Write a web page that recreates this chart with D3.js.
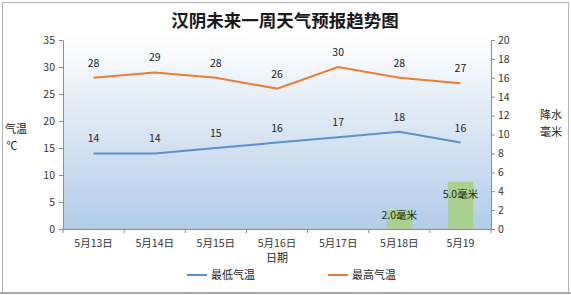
<!DOCTYPE html>
<html><head><meta charset="utf-8">
<script src="https://cdn.jsdelivr.net/npm/d3@7/dist/d3.min.js"></script>
<style>body{margin:0;background:#fff}svg{display:block;font-family:"Noto Sans CJK SC","Noto Sans",sans-serif}</style>
</head><body><svg id="c" width="571" height="295"></svg>
<script>
const categories = ["5月13日","5月14日","5月15日","5月16日","5月17日","5月18日","5月19"];
const lowTemp = [14,14,15,16,17,18,16];
const highTemp = [28,29,28,26,30,28,27];
const rain = [0,0,0,0,0,2.0,5.0];
const leftTicks = [0,5,10,15,20,25,30,35];
const rightTicks = [0,2,4,6,8,10,12,14,16,18,20];

const svg = d3.select("#c");
const L = 63, R = 491, T = 40, B = 229;
const x = d3.scaleBand().domain(categories).range([L, R]);
const yL = d3.scaleLinear().domain([0,35]).range([B, T]);
const yR = d3.scaleLinear().domain([0,20]).range([B, T]);

// chart border
svg.append("rect").attr("x",2.5).attr("y",2.5).attr("width",566).attr("height",290)
  .attr("fill","#fff").attr("stroke","#b4b4b4").attr("stroke-width",1);
svg.append("line").attr("x1",0).attr("x2",571).attr("y1",293).attr("y2",293).attr("stroke","#a8a8a8").attr("stroke-width",2);

// gradient
const defs = svg.append("defs");
const g = defs.append("linearGradient").attr("id","bg").attr("x1",0).attr("x2",0).attr("y1",0).attr("y2",1);
g.append("stop").attr("offset","0%").attr("stop-color","#ffffff");
g.append("stop").attr("offset","100%").attr("stop-color","#b2cce8");
svg.append("rect").attr("x",L+1).attr("y",T-6).attr("width",R-L-1).attr("height",B-T+6).attr("fill","url(#bg)");

// title
svg.append("text").attr("x",285).attr("y",27).attr("text-anchor","middle")
  .attr("font-size",17.5).attr("font-weight","bold").attr("fill","#1a1a1a").text("汉阴未来一周天气预报趋势图");

// bars
const bw = 25;
const rainData = rain.map((v,i)=>({v,c:categories[i]})).filter(d=>d.v>0);
svg.selectAll("rect.bar").data(rainData)
  .enter().append("rect").attr("class","bar")
  .attr("x",d=>x(d.c)+x.bandwidth()/2-bw/2).attr("width",bw)
  .attr("y",d=>yR(d.v)).attr("height",d=>B-yR(d.v)).attr("fill","#a9d08e");
svg.selectAll("text.barl").data(rainData)
  .enter().append("text").attr("class","barl")
  .attr("x",d=>x(d.c)+x.bandwidth()/2).attr("text-anchor","middle")
  .attr("y",d=>yR(d.v)+Math.min(12,(B-yR(d.v))/4)+4)
  .attr("font-size",10.5).attr("fill","#1e2a10").text(d=>d.v.toFixed(1)+"毫米");

// axes
const axL = d3.axisLeft(yL).tickValues(leftTicks).tickSize(4).tickSizeOuter(0);
const gl = svg.append("g").attr("transform",`translate(${L},0)`).call(axL);
const axR = d3.axisRight(yR).tickValues(rightTicks).tickSize(4).tickSizeOuter(0);
const gr = svg.append("g").attr("transform",`translate(${R},0)`).call(axR);
const axB = d3.axisBottom(x).tickSize(0).tickSizeOuter(0);
const gb = svg.append("g").attr("transform",`translate(0,${B})`).call(axB);
gb.selectAll("line.bt").data(d3.range(categories.length+1)).enter().append("line").attr("class","bt")
  .attr("x1",i=>L+i*x.step()).attr("x2",i=>L+i*x.step()).attr("y1",0).attr("y2",4).attr("stroke","#8c8c8c");
[gl,gr,gb].forEach(a=>{
  a.selectAll(".domain").attr("stroke","#8c8c8c");
  a.selectAll(".tick line").attr("stroke","#8c8c8c");
  a.selectAll("text").attr("fill","#333").attr("font-size",10.5).attr("font-family","'Noto Sans CJK SC',sans-serif");
});
gl.selectAll(".tick text").attr("dx",-1);
gb.selectAll(".tick text").attr("dy","1.4em");

// lines
const line = d3.line().x((d,i)=>x(categories[i])+x.bandwidth()/2).y(d=>yL(d));
svg.append("path").datum(lowTemp).attr("d",line).attr("fill","none").attr("stroke","#5b8fcf").attr("stroke-width",2);
svg.append("path").datum(highTemp).attr("d",line).attr("fill","none").attr("stroke","#ed7d31").attr("stroke-width",2);
[lowTemp, highTemp].forEach(arr=>{
  svg.append("g").selectAll("text").data(arr).enter().append("text")
    .attr("x",(d,i)=>x(categories[i])+x.bandwidth()/2).attr("y",d=>yL(d)-11)
    .attr("text-anchor","middle").attr("font-size",10.5).attr("fill","#222").text(d=>d);
});

// axis titles
svg.append("text").attr("x",16).attr("y",133).attr("text-anchor","middle").attr("font-size",11).attr("fill","#222").text("气温");
svg.append("text").attr("x",12).attr("y",150).attr("text-anchor","middle").attr("font-size",11).attr("fill","#222").text("℃");
svg.append("text").attr("x",551).attr("y",119).attr("text-anchor","middle").attr("font-size",11).attr("fill","#222").text("降水");
svg.append("text").attr("x",551).attr("y",136).attr("text-anchor","middle").attr("font-size",11).attr("fill","#222").text("毫米");
svg.append("text").attr("x",277).attr("y",262).attr("text-anchor","middle").attr("font-size",11).attr("fill","#222").text("日期");

// legend
const leg = [{n:"最低气温",c:"#5b8fcf",x:187},{n:"最高气温",c:"#ed7d31",x:328}];
leg.forEach(l=>{
  svg.append("line").attr("x1",l.x).attr("x2",l.x+20).attr("y1",275).attr("y2",275).attr("stroke",l.c).attr("stroke-width",2);
  svg.append("text").attr("x",l.x+24).attr("y",279).attr("font-size",11).attr("fill","#222").text(l.n);
});
</script></body></html>
